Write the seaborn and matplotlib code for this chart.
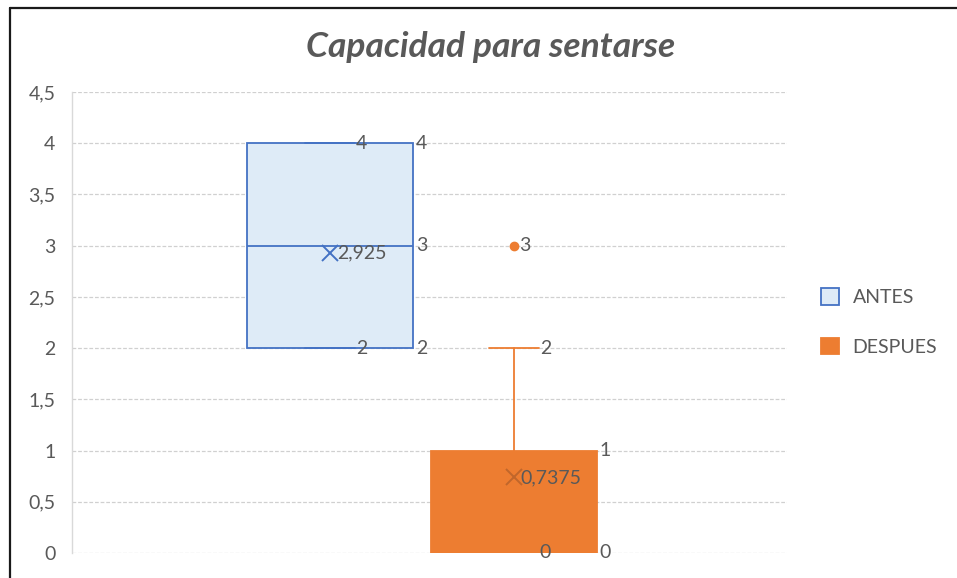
import matplotlib
matplotlib.use("Agg")
import matplotlib.pyplot as plt
from matplotlib.patches import Patch
from matplotlib.lines import Line2D
from matplotlib.ticker import FuncFormatter
import seaborn as sns

# Summary statistics of the two groups
groups = ["ANTES", "DESPUES"]
whisker_low = [2, 0]
q1 = [2, 0]
medians = [3, 0]
q3 = [4, 1]
whisker_high = [4, 2]
means = [2.925, 0.7375]
outliers = [[], [3]]

fill_colors = ["#DEEBF7", "#ED7D31"]
edge_colors = ["#4472C4", "#ED7D31"]
mean_colors = ["#4472C4", "#C0662B"]
text_color = "#595959"

sns.set_theme(style="white")
plt.rcParams["font.family"] = ["Lato", "DejaVu Sans"]

fig = plt.figure(figsize=(9.57, 5.78), dpi=100)
ax = fig.add_axes([72 / 957, 1 - 553 / 578, 715 / 957, 461 / 578])

positions = [0.361, 0.618]
width = 0.232

stats = []
for i, g in enumerate(groups):
    stats.append(dict(label=g, whislo=whisker_low[i], q1=q1[i], med=medians[i],
                      q3=q3[i], whishi=whisker_high[i], mean=means[i],
                      fliers=outliers[i]))

for i, st in enumerate(stats):
    ax.bxp([st], positions=[positions[i]], widths=width, patch_artist=True,
           showmeans=True, showcaps=True, manage_ticks=False,
           boxprops=dict(facecolor=fill_colors[i], edgecolor=edge_colors[i], linewidth=1.3),
           medianprops=dict(color=edge_colors[i], linewidth=1.3),
           whiskerprops=dict(color=edge_colors[i], linewidth=1.3),
           capprops=dict(color=edge_colors[i], linewidth=1.3),
           capwidths=width * 0.3,
           meanprops=dict(marker="x", markeredgecolor=mean_colors[i],
                          markersize=11, markeredgewidth=1.4),
           flierprops=dict(marker="o", markerfacecolor=edge_colors[i],
                           markeredgecolor=edge_colors[i], markersize=6))

def fmt(v):
    s = f"{v:g}"
    return s.replace(".", ",")

label_kw = dict(fontsize=14, color=text_color, va="center", ha="left")
for i in range(len(groups)):
    x = positions[i]
    right = x + width / 2
    # labels at the centre line (whisker ends / outliers / mean)
    ax.annotate(fmt(whisker_high[i]), (x, whisker_high[i]), xytext=(26, 0),
                textcoords="offset pixels", **label_kw)
    ax.annotate(fmt(whisker_low[i]), (x, whisker_low[i]), xytext=(26, 0),
                textcoords="offset pixels", **label_kw)
    ax.annotate(fmt(means[i]), (x, means[i]), xytext=(7, 0),
                textcoords="offset pixels", **label_kw)
    for o in outliers[i]:
        ax.annotate(fmt(o), (x, o), xytext=(5, 0), textcoords="offset pixels", **label_kw)
    # labels at the right edge of the box (quartiles and median)
    for v in sorted({q1[i], medians[i], q3[i]}):
        ax.annotate(fmt(v), (right, v), xytext=(3, 0), textcoords="offset pixels", **label_kw)

ax.set_xlim(0, 1)
ax.set_ylim(0, 4.5)
ax.set_yticks([i * 0.5 for i in range(10)])
ax.yaxis.set_major_formatter(FuncFormatter(lambda v, p: fmt(v)))
ax.set_xticks([])
ax.tick_params(axis="y", labelsize=14, labelcolor=text_color, length=0, pad=12)
ax.yaxis.grid(True, color="#D0D0D0", linestyle=(0, (3, 1.5)), linewidth=0.9)
ax.set_axisbelow(True)
for s in ["top", "right", "bottom"]:
    ax.spines[s].set_visible(False)
ax.spines["left"].set_color("#D9D9D9")
ax.spines["left"].set_linewidth(1)
ax.set_facecolor("white")

fig.text(491 / 957, 1 - 47 / 578, "Capacidad para sentarse", ha="center", va="center",
         fontsize=25.5, fontweight="bold", fontstyle="italic", color=text_color)

handles = [Patch(facecolor=fill_colors[i], edgecolor=edge_colors[i], linewidth=1.3, label=g)
           for i, g in enumerate(groups)]
fig.legend(handles=handles, loc="center left", bbox_to_anchor=(803 / 957, 1 - 322 / 578),
           frameon=False, fontsize=14, handlelength=0.95, handleheight=0.95,
           handletextpad=0.7, labelspacing=1.6, labelcolor=text_color)

# chart frame (left and top edges)
fig.add_artist(Line2D([9.5 / 957, 9.5 / 957], [0, 1 - 7.5 / 578], transform=fig.transFigure,
                      color="#1A1A1A", linewidth=1.6))
fig.add_artist(Line2D([9.5 / 957, 1], [1 - 7.5 / 578, 1 - 7.5 / 578], transform=fig.transFigure,
                      color="#1A1A1A", linewidth=1.6))

fig.savefig("out.png", dpi=100, facecolor="white")
